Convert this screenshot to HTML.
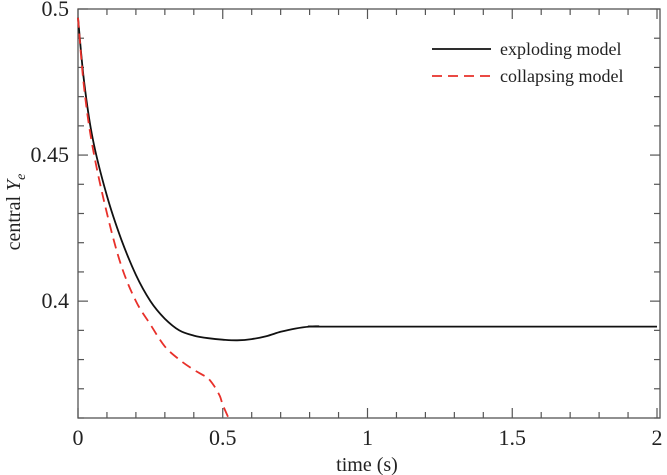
<!DOCTYPE html>
<html><head><meta charset="utf-8"><style>
body{margin:0;background:#fff}
svg{display:block;font-family:"Liberation Serif",serif}
</style></head><body>
<svg id="c" width="667" height="475"></svg>
<script>
const xTicks=[0,0.5,1,1.5,2];
const xTickLabels=["0","0.5","1","1.5","2"];
const yTicks=[0.4,0.45,0.5];
const yTickLabels=["0.4","0.45","0.5"];
const explT=[0,0.02,0.05,0.1,0.15,0.2,0.25,0.3,0.35,0.4,0.45,0.5,0.55,0.6,0.65,0.7,0.75,0.8,0.83,0.9,2];
const explY=[0.497,0.476,0.456,0.436,0.421,0.409,0.400,0.394,0.3900,0.3882,0.3873,0.3868,0.3866,0.3870,0.3880,0.3895,0.3906,0.3913,0.3914,0.3913,0.3913];
const collT=[0,0.02,0.05,0.1,0.15,0.2,0.25,0.3,0.35,0.4,0.43,0.45,0.47,0.49,0.5,0.52];
const collY=[0.497,0.474,0.453,0.430,0.412,0.400,0.392,0.3845,0.380,0.3765,0.3748,0.3735,0.371,0.3675,0.3645,0.360];
const L=78,R=657,T=9,B=418;
const x=v=>L+(v-0)/(2-0)*(R-L);
const y=v=>B-(v-0.36)/(0.5-0.36)*(B-T);
const s=document.getElementById('c');
const NS='http://www.w3.org/2000/svg';
function mk(tag,at,txt){const e=document.createElementNS(NS,tag);for(const k in at)e.setAttribute(k,at[k]);if(txt!==undefined)e.textContent=txt;s.appendChild(e);return e;}
const frame=mk('rect',{x:L,y:T,width:R-L+3,height:B-T,fill:'none',stroke:'#555','stroke-width':1.3});


for(let i=0;i<=20;i++){const v=i*0.1,px=x(v),len=(i%5==0)?10:6;
 const t1=mk('line',{x1:px,x2:px,y1:B,y2:B-len,stroke:'#555','stroke-width':1.2});
 
 
 const t2=mk('line',{x1:px,x2:px,y1:T,y2:T+len,stroke:'#555','stroke-width':1.2});
 
 }
for(let i=0;i<=14;i++){const v=0.36+i*0.01,py=y(v),len=(i%5==4)?10:6;
 const t1=mk('line',{x1:L,x2:L+len,y1:py,y2:py,stroke:'#555','stroke-width':1.2});
 
 
 const t2=mk('line',{x1:R+3,x2:R+3-len,y1:py,y2:py,stroke:'#555','stroke-width':1.2});
 
 }
xTicks.forEach((v,i)=>{const t=mk('text',{x:x(v),y:445,'font-size':22,'text-anchor':'middle',fill:'#222'},xTickLabels[i]);
 
 });
yTicks.forEach((v,i)=>{const t=mk('text',{x:69,y:y(v)+7,'font-size':22,'text-anchor':'end',fill:'#222'},yTickLabels[i]);
 
 });
const xl=mk('text',{x:367,y:471,'font-size':20,'text-anchor':'middle',fill:'#222'},'time (s)');


const yl=mk('text',{x:0,y:0,'font-size':20,'text-anchor':'middle',fill:'#222',transform:'translate(20,212) rotate(-90)'});


yl.innerHTML='central <tspan font-style="italic">Y</tspan><tspan font-style="italic" font-size="14" dy="5">e</tspan>';
function path(ts,ys){
 const p=ts.map((t,i)=>[x(t),y(ys[i])]);
 let d='M'+p[0][0].toFixed(1)+','+p[0][1].toFixed(1);
 for(let i=0;i<p.length-1;i++){
  const p0=p[Math.max(0,i-1)],p1=p[i],p2=p[i+1],p3=p[Math.min(p.length-1,i+2)];
  const c1x=p1[0]+(p2[0]-p0[0])/6,c1y=p1[1]+(p2[1]-p0[1])/6;
  const c2x=p2[0]-(p3[0]-p1[0])/6,c2y=p2[1]-(p3[1]-p1[1])/6;
  d+='C'+c1x.toFixed(1)+','+c1y.toFixed(1)+' '+c2x.toFixed(1)+','+c2y.toFixed(1)+' '+p2[0].toFixed(1)+','+p2[1].toFixed(1);
 }
 return d;}
const pe=mk('path',{d:path(explT,explY),fill:'none',stroke:'#111','stroke-width':1.8,'stroke-linejoin':'round'});


const pc=mk('path',{d:path(collT,collY),fill:'none',stroke:'#e8302a','stroke-width':1.8,'stroke-dasharray':'10,6'});


const l1=mk('line',{x1:432,x2:491,y1:49,y2:49,stroke:'#111','stroke-width':1.8});


const t1=mk('text',{x:500,y:55,'font-size':18,fill:'#222'},'exploding model');


const l2=mk('line',{x1:432,x2:491,y1:76,y2:76,stroke:'#e8302a','stroke-width':1.8,'stroke-dasharray':'10,6'});


const t2=mk('text',{x:500,y:82,'font-size':18,fill:'#222'},'collapsing model');


</script>
</body></html>
